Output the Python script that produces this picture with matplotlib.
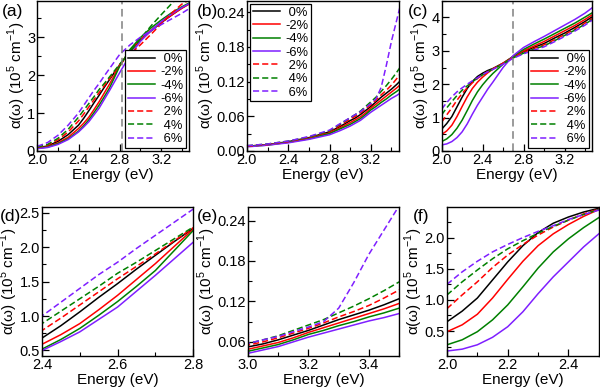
import matplotlib.pyplot as plt
from matplotlib.ticker import MultipleLocator

plt.rcParams['font.family'] = ['Liberation Sans', 'DejaVu Sans']
plt.rcParams['mathtext.fontset'] = 'custom'
plt.rcParams['mathtext.rm'] = 'Liberation Sans'

# "0%" padded with a punctuation space so that labels line up on the right
strain_labels = ['\u20080%', '-2%', '-4%', '-6%', '\u20082%', '\u20084%', '\u20086%']
colors = ['black', '#ff0000', '#008000', '#7f1fff', '#ff0000', '#008000', '#7f1fff']
styles = ['-', '-', '-', '-', '--', '--', '--']

# panel (a) / (d)
E_a = [2.0, 2.1, 2.2, 2.3, 2.4, 2.45, 2.5, 2.55, 2.6, 2.65, 2.7, 2.75, 2.8,
       2.9, 3.0, 3.1, 3.2, 3.3, 3.4, 3.47]
a_0 = [0.08, 0.13, 0.25, 0.43, 0.68, 0.86, 1.06, 1.27, 1.47, 1.68, 1.88, 2.08, 2.27,
       2.63, 2.92, 3.16, 3.38, 3.58, 3.77, 3.88]
a_m2 = [0.07, 0.11, 0.21, 0.36, 0.59, 0.73, 0.89, 1.09, 1.30, 1.53, 1.76, 2.01, 2.26,
        2.65, 2.94, 3.18, 3.39, 3.58, 3.76, 3.87]
a_m4 = [0.07, 0.10, 0.19, 0.32, 0.52, 0.66, 0.82, 1.01, 1.21, 1.43, 1.66, 1.95, 2.24,
        2.68, 2.99, 3.24, 3.45, 3.64, 3.80, 3.90]
a_m6 = [0.06, 0.09, 0.17, 0.30, 0.50, 0.63, 0.77, 0.95, 1.13, 1.36, 1.59, 1.83, 2.07,
        2.53, 2.89, 3.17, 3.41, 3.61, 3.78, 3.88]
a_p2 = [0.09, 0.15, 0.29, 0.50, 0.79, 0.97, 1.16, 1.35, 1.54, 1.72, 1.90, 2.09, 2.28,
        2.55, 2.80, 3.07, 3.35, 3.63, 3.87, 3.98]
a_p4 = [0.10, 0.17, 0.33, 0.57, 0.89, 1.07, 1.25, 1.43, 1.62, 1.78, 1.95, 2.12, 2.29,
        2.63, 2.96, 3.29, 3.59, 3.88, 4.15, 4.30]
a_p6 = [0.12, 0.22, 0.41, 0.68, 1.00, 1.20, 1.40, 1.60, 1.78, 1.98, 2.17, 2.36, 2.55,
        2.80, 3.00, 3.17, 3.33, 3.48, 3.63, 3.75]

# panel (b) / (e)
E_b = [2.0, 2.2, 2.4, 2.6, 2.8, 2.9, 3.0, 3.05, 3.1, 3.15, 3.2, 3.25, 3.3,
       3.35, 3.4, 3.45, 3.5]
b_0 = [0.008, 0.011, 0.016, 0.023, 0.033, 0.042, 0.0525, 0.057, 0.063, 0.070, 0.077,
       0.085, 0.093, 0.100, 0.107, 0.115, 0.124]
b_m2 = [0.008, 0.011, 0.015, 0.022, 0.031, 0.040, 0.049, 0.054, 0.059, 0.066, 0.074,
        0.081, 0.088, 0.095, 0.102, 0.109, 0.117]
b_m4 = [0.008, 0.010, 0.015, 0.021, 0.030, 0.038, 0.046, 0.051, 0.056, 0.063, 0.071,
        0.077, 0.084, 0.090, 0.097, 0.103, 0.110]
b_m6 = [0.007, 0.010, 0.014, 0.020, 0.028, 0.035, 0.043, 0.048, 0.053, 0.060, 0.067,
        0.073, 0.079, 0.085, 0.091, 0.096, 0.102]
b_p2 = [0.008, 0.011, 0.016, 0.023, 0.034, 0.044, 0.055, 0.060, 0.066, 0.073, 0.080,
        0.088, 0.097, 0.105, 0.114, 0.125, 0.137]
b_p4 = [0.009, 0.012, 0.017, 0.024, 0.035, 0.046, 0.0575, 0.063, 0.069, 0.077, 0.085,
        0.093, 0.103, 0.113, 0.124, 0.136, 0.149]
b_p6 = [0.009, 0.012, 0.017, 0.025, 0.036, 0.047, 0.0575, 0.063, 0.068, 0.075, 0.082,
        0.090, 0.110, 0.148, 0.190, 0.226, 0.262]

# panel (c) / (f)
E_c = [2.0, 2.05, 2.1, 2.15, 2.2, 2.25, 2.3, 2.35, 2.4, 2.45, 2.5, 2.6, 2.7,
       2.8, 2.9, 3.0, 3.1, 3.2, 3.3, 3.4, 3.47]
c_0 = [0.65, 0.82, 1.03, 1.32, 1.61, 1.87, 2.08, 2.23, 2.33, 2.41, 2.47, 2.63, 2.83,
       2.98, 3.10, 3.22, 3.38, 3.53, 3.70, 3.88, 4.02]
c_m2 = [0.49, 0.60, 0.77, 1.03, 1.33, 1.62, 1.87, 2.06, 2.21, 2.34, 2.45, 2.63, 2.83,
        3.00, 3.14, 3.28, 3.44, 3.60, 3.76, 3.94, 4.08]
c_m4 = [0.28, 0.36, 0.49, 0.68, 0.92, 1.21, 1.51, 1.77, 1.98, 2.16, 2.32, 2.60, 2.84,
        3.04, 3.20, 3.35, 3.51, 3.67, 3.83, 4.01, 4.14]
c_m6 = [0.18, 0.21, 0.28, 0.40, 0.57, 0.81, 1.10, 1.37, 1.61, 1.85, 2.06, 2.50, 2.86,
        3.10, 3.27, 3.43, 3.60, 3.77, 3.94, 4.13, 4.29]
c_p2 = [0.86, 1.08, 1.29, 1.52, 1.72, 1.89, 2.04, 2.17, 2.28, 2.38, 2.46, 2.62, 2.80,
        2.95, 3.07, 3.18, 3.33, 3.49, 3.65, 3.83, 3.97]
c_p4 = [1.08, 1.29, 1.48, 1.66, 1.82, 1.95, 2.07, 2.18, 2.28, 2.37, 2.45, 2.61, 2.79,
        2.93, 3.05, 3.15, 3.30, 3.46, 3.62, 3.80, 3.94]
c_p6 = [1.25, 1.45, 1.62, 1.77, 1.89, 2.00, 2.10, 2.19, 2.29, 2.37, 2.44, 2.60, 2.78,
        2.91, 3.02, 3.12, 3.27, 3.43, 3.59, 3.77, 3.92]

series_a = [a_0, a_m2, a_m4, a_m6, a_p2, a_p4, a_p6]
series_b = [b_0, b_m2, b_m4, b_m6, b_p2, b_p4, b_p6]
series_c = [c_0, c_m2, c_m4, c_m6, c_p2, c_p4, c_p6]

ylab = 'α(ω) (10$^5$ cm$^{-1}$)'

fig = plt.figure(figsize=(6.0, 3.91), dpi=100)


def make_ax(rect, E, series, xlim, ylim, xmaj, xmin, yticks, ymin, yfmt):
    ax = fig.add_axes(rect)
    for ys, c, ls, lab in zip(series, colors, styles, strain_labels):
        if ls == '--':
            ax.plot(E, ys, color=c, lw=1.1, label=lab, ls='--', dashes=(4, 2))
        else:
            ax.plot(E, ys, color=c, lw=1.1, label=lab)
    ax.set_xlim(*xlim)
    ax.set_ylim(*ylim)
    ax.xaxis.set_major_locator(MultipleLocator(xmaj))
    ax.xaxis.set_minor_locator(MultipleLocator(xmin))
    ax.set_yticks(yticks)
    ax.set_yticklabels([yfmt % v for v in yticks])
    ax.yaxis.set_minor_locator(MultipleLocator(ymin))
    ax.tick_params(which='both', direction='in', labelsize=10.5, pad=1.5)
    ax.tick_params(which='major', length=5, width=0.9)
    ax.tick_params(which='minor', length=3, width=0.8)
    ax.set_xlabel('Energy (eV)', fontsize=11, labelpad=0.5)
    ax.set_ylabel(ylab, fontsize=11, labelpad=-0.5)
    for s in ax.spines.values():
        s.set_linewidth(1.0)
    return ax


def add_legend(ax, loc):
    leg = ax.legend(loc=loc, fontsize=9.3, frameon=True,
                    fancybox=False, edgecolor='black', framealpha=1,
                    handlelength=2.1, handletextpad=0.4, labelspacing=0.1,
                    borderpad=0.2, borderaxespad=0.25)
    leg.get_frame().set_linewidth(0.9)
    return leg


W = 0.253
H_top = 0.384
ax_a = make_ax([0.062, 0.614, W, H_top], E_a, series_a, (2.0, 3.47), (0, 3.96),
               0.4, 0.2, [0, 1, 2, 3], 0.5, '%d')
ax_a.axvline(2.82, color='gray', ls='--', lw=1.1, dashes=(5, 3))
add_legend(ax_a, 'lower right')

ax_b = make_ax([0.4115, 0.614, W, H_top], E_b, series_b, (2.0, 3.47), (0, 0.26),
               0.4, 0.2, [0.0, 0.06, 0.12, 0.18, 0.24], 0.03, '%.2f')
add_legend(ax_b, 'upper left')

ax_c = make_ax([0.736, 0.614, 0.251, H_top], E_c, series_c, (2.0, 3.47), (0, 4.5),
               0.4, 0.2, [0, 1, 2, 3, 4], 0.5, '%d')
ax_c.axvline(2.7, color='gray', ls='--', lw=1.1, dashes=(5, 3))
add_legend(ax_c, 'lower right')

ax_d = make_ax([0.07, 0.0895, 0.252, 0.381], E_a, series_a, (2.4, 2.8), (0.42, 2.58),
               0.2, 0.1, [0.5, 1.0, 1.5, 2.0, 2.5], 0.25, '%.1f')
ax_e = make_ax([0.4133, 0.0895, 0.252, 0.381], E_b, series_b, (3.0, 3.5), (0.039, 0.26),
               0.2, 0.1, [0.06, 0.12, 0.18, 0.24], 0.03, '%.2f')
ax_f = make_ax([0.745, 0.0895, 0.253, 0.381], E_c, series_c, (2.0, 2.5), (0.1, 2.49),
               0.2, 0.1, [0.5, 1.0, 1.5, 2.0], 0.25, '%.1f')

for lab, x, y in [('(a)', 0.003, 0.96), ('(b)', 0.328, 0.96), ('(c)', 0.68, 0.96),
                  ('(d)', 0.0, 0.435), ('(e)', 0.328, 0.435), ('(f)', 0.688, 0.435)]:
    fig.text(x, y, lab, fontsize=12.5)

fig.savefig('out.png', dpi=100)
